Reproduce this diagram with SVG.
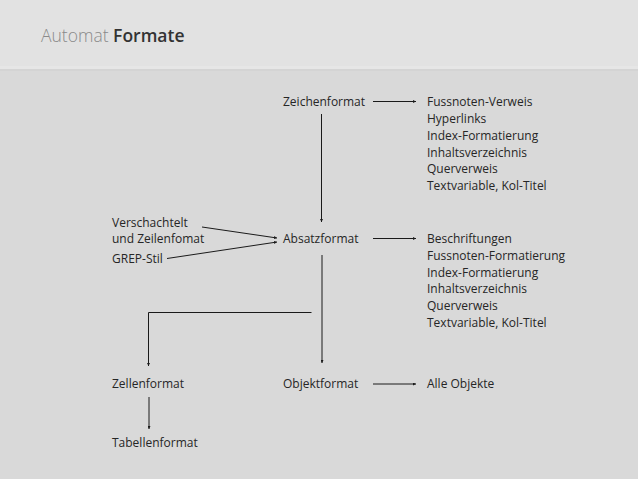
<svg xmlns="http://www.w3.org/2000/svg" width="638" height="479" viewBox="0 0 638 479">
<defs>
<style>
text{font-family:"Open Sans","Noto Sans","Liberation Sans",sans-serif;font-size:12px;fill:#262626}
.c{stroke:#1a1a1a;stroke-width:1;fill:none;marker-end:url(#a)}
</style>
<marker id="a" viewBox="0 0 6 6" refX="6" refY="3" markerWidth="3" markerHeight="3" orient="auto" markerUnits="userSpaceOnUse">
<path d="M0,0 L6,3 L0,6 z" fill="#1a1a1a"/>
</marker>
</defs>
<rect x="0" y="0" width="638" height="479" fill="#d9d9d9"/>
<rect x="0" y="0" width="638" height="66" fill="#e2e2e2"/>
<rect x="0" y="66" width="638" height="3" fill="#e6e6e6"/>
<rect x="0" y="69" width="638" height="2" fill="#d4d4d4"/>
<g id="title">
<text x="41" y="42" style="font-size:17.5px"><tspan style="fill:#8a8a8a;font-weight:300">Automat</tspan> <tspan style="fill:#333;font-weight:600">Formate</tspan></text>
</g>
<g id="connectors">
<line class="c" x1="373" y1="101.5" x2="416" y2="101.5"/>
<line class="c" x1="321.5" y1="114" x2="321.5" y2="222"/>
<line class="c" x1="202" y1="227" x2="277" y2="238"/>
<line class="c" x1="167" y1="258.5" x2="277" y2="242"/>
<line class="c" x1="373" y1="238.5" x2="416" y2="238.5"/>
<line class="c" x1="322" y1="255" x2="322" y2="363"/>
<polyline class="c" points="311.5,312.5 148.5,312.5 148.5,366"/>
<line class="c" x1="373" y1="384" x2="416" y2="384"/>
<line class="c" x1="149" y1="397" x2="149" y2="429"/>
</g>
<g id="zeichenformat"><text x="283" y="106">Zeichenformat</text></g>
<g id="zeichen-ziele">
<text x="427" y="106">Fussnoten-Verweis</text>
<text x="427" y="123">Hyperlinks</text>
<text x="427" y="139.5">Index-Formatierung</text>
<text x="427" y="156.5">Inhaltsverzeichnis</text>
<text x="427" y="173">Querverweis</text>
<text x="427" y="190">Textvariable, Kol-Titel</text>
</g>
<g id="verschachtelt"><text x="112" y="227">Verschachtelt</text><text x="112" y="243">und Zeilenfomat</text></g>
<g id="grep"><text x="112" y="263">GREP-Stil</text></g>
<g id="absatzformat"><text x="283" y="243">Absatzformat</text></g>
<g id="absatz-ziele">
<text x="427" y="243">Beschriftungen</text>
<text x="427" y="260">Fussnoten-Formatierung</text>
<text x="427" y="276.5">Index-Formatierung</text>
<text x="427" y="293">Inhaltsverzeichnis</text>
<text x="427" y="310">Querverweis</text>
<text x="427" y="327">Textvariable, Kol-Titel</text>
</g>
<g id="zellenformat"><text x="112" y="388">Zellenformat</text></g>
<g id="objektformat"><text x="283" y="388">Objektformat</text></g>
<g id="alle-objekte"><text x="427" y="388">Alle Objekte</text></g>
<g id="tabellenformat"><text x="112" y="447">Tabellenformat</text></g>
</svg>
